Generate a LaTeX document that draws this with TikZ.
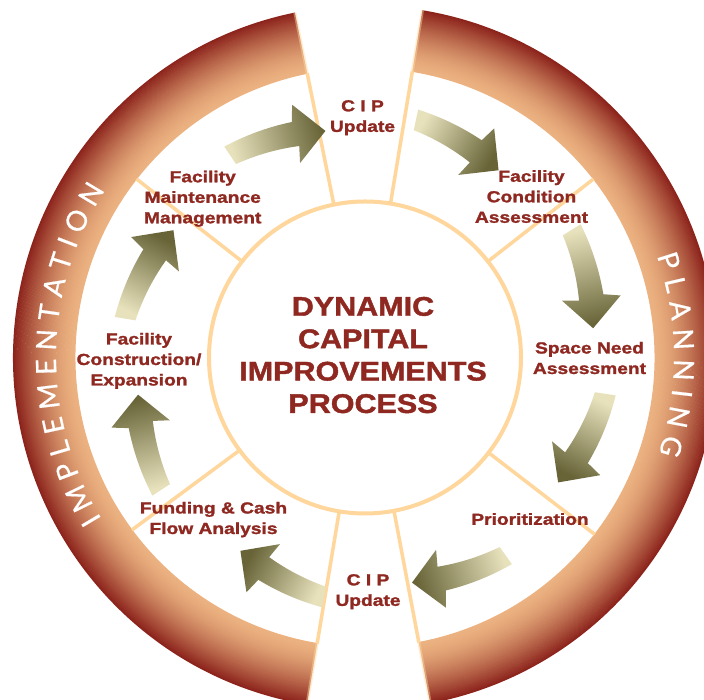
\documentclass[tikz,border=0pt]{standalone}
\usepackage{fontspec}
\usetikzlibrary{decorations.text}
\newfontfamily\labfont[FakeStretch=1.2,FakeBold=1.5]{Liberation Sans}
\newfontfamily\ctrfont[FakeStretch=1.13,FakeBold=1.5]{Liberation Sans}
\newfontfamily\bandfont[FakeBold=0.6]{Lato}
\definecolor{txtRed}{RGB}{142,40,32}
\definecolor{lineC}{RGB}{255,214,155}
\definecolor{bandIn}{RGB}{236,178,128}
\definecolor{bandOut}{RGB}{140,36,28}
\definecolor{arrLight}{RGB}{231,226,188}
\definecolor{arrDark}{RGB}{104,100,56}
\tikzset{
  lab/.style={font=\labfont\bfseries\fontsize{16}{20.5}\selectfont, text=txtRed, align=center, anchor=north, inner sep=0pt},
  ctr/.style={font=\ctrfont\bfseries\fontsize{27}{32.4}\selectfont, text=txtRed, align=center, anchor=north, inner sep=0pt},
  divline/.style={draw=lineC, line width=3.5pt},
  endline/.style={draw=lineC, line width=3pt, opacity=0.45},
  ringline/.style={draw=lineC, line width=4pt, fill=white},
  arrowshade/.style={top color=arrDark, bottom color=arrLight},
  bandtext/.style={decorate, decoration={text along path, text={|\bandfont\fontsize{28}{30}\selectfont|#1}, text align={fit to path}, text color=white}}
}
% annular band with radial gradient
\newcommand{\bandSector}[2]{%
  \foreach \i in {0,...,39} {%
    \pgfmathsetmacro{\bRa}{289.5+\i*1.5625}%
    \pgfmathsetmacro{\bRb}{min(\bRa+2.06,352)}%
    \pgfmathsetmacro{\bT}{\i/39}%
    \pgfmathsetmacro{\bP}{100*(1-\bT*sqrt(\bT))}%
    \fill[bandIn!\bP!bandOut] (#1:\bRa) arc[start angle=#1, end angle=#2, radius=\bRa] -- (#2:\bRb) arc[start angle=#2, end angle=#1, radius=\bRb] -- cycle;
  }%
}
% curved gradient arrow: tail angle, tip angle
\newcommand{\cArrow}[2]{%
  \pgfmathsetmacro{\arTa}{#1}%
  \pgfmathsetmacro{\arDt}{#2-#1}%
  \pgfmathsetmacro{\arTb}{\arTa+0.69*\arDt}%
  \pgfmathsetmacro{\arTo}{\arTb+0.05*\arDt}%
  \pgfmathsetmacro{\arTi}{\arTb-0.05*\arDt}%
  \pgfmathsetmacro{\arRb}{243-13*0.69}%
  \pgfmathsetmacro{\arHo}{\arRb+29}%
  \pgfmathsetmacro{\arHi}{\arRb-29}%
  \pgfmathsetmacro{\arSa}{(#1+#2)/2-186}%
  \shade[arrowshade, shading angle=\arSa]
    (\arTa:253.5)
    \foreach \k in {1,...,23} { -- ({\arTa+\arDt*\k*0.03}:{243-13*\k*0.03+10.5+3*\k*0.03}) }
    -- (\arTo:\arHo) -- (#2:230) -- (\arTi:\arHi)
    \foreach \k in {23,22,...,0} { -- ({\arTa+\arDt*\k*0.03}:{243-13*\k*0.03-10.5-3*\k*0.03}) }
    -- cycle;
}
\begin{document}
\begin{tikzpicture}[x=1pt,y=1pt]
\useasboundingbox (0,0) rectangle (704,700);
\clip (0,0) rectangle (704,700);
\fill[white] (0,0) rectangle (704,700);
\begin{scope}[shift={(365,342.5)}]
  \bandSector{-79.3}{80.6}
  \bandSector{101.5}{260.5}
  \foreach \a in {80.6,101.5,260.5,-79.3} { \draw[endline] (\a:289.5) -- (\a:352); }
  \foreach \a in {80.6,101.5,260.5,-79.3,142,38,-37.6,216.5} { \draw[divline] (\a:156) -- (\a:290); }
  \draw[ringline] (0,0) circle (156);
  \cArrow{123.7}{99.9}
  \cArrow{77.9}{54.5}
  \cArrow{31.7}{7.3}
  \cArrow{-8.6}{-32.9}
  \cArrow{-54.6}{-78.2}
  \cArrow{-99.7}{-122.8}
  \cArrow{-147}{-170.7}
  \cArrow{-189.2}{-213.6}
  \path[bandtext=IMPLEMENTATION] (211.5:309) arc[start angle=211.5, end angle=147.2, radius=309];
  \path[bandtext=PLANNING] (19.2:309) arc[start angle=19.2, end angle=-18.1, radius=309];
\end{scope}
\node[lab] (cipTop) at (362.5,600) {C I P\\Update};
\node[lab] (fca) at (531.5,530) {Facility\\Condition\\Assessment};
\node[lab] (fmm) at (202.7,529.5) {Facility\\Maintenance\\Management};
\node[lab] (sna) at (589.5,358.3) {Space Need\\Assessment};
\node[lab] (fce) at (139,367.3) {Facility\\Construction/\\Expansion};
\node[lab] (prio) at (530,187) {Prioritization};
\node[lab] (fcf) at (213.5,198.3) {Funding \& Cash\\Flow Analysis};
\node[lab] (cipBot) at (368,126) {C I P\\Update};
\node[ctr] (title) at (363,403.3) {DYNAMIC\\CAPITAL\\IMPROVEMENTS\\PROCESS};
\end{tikzpicture}
\end{document}
